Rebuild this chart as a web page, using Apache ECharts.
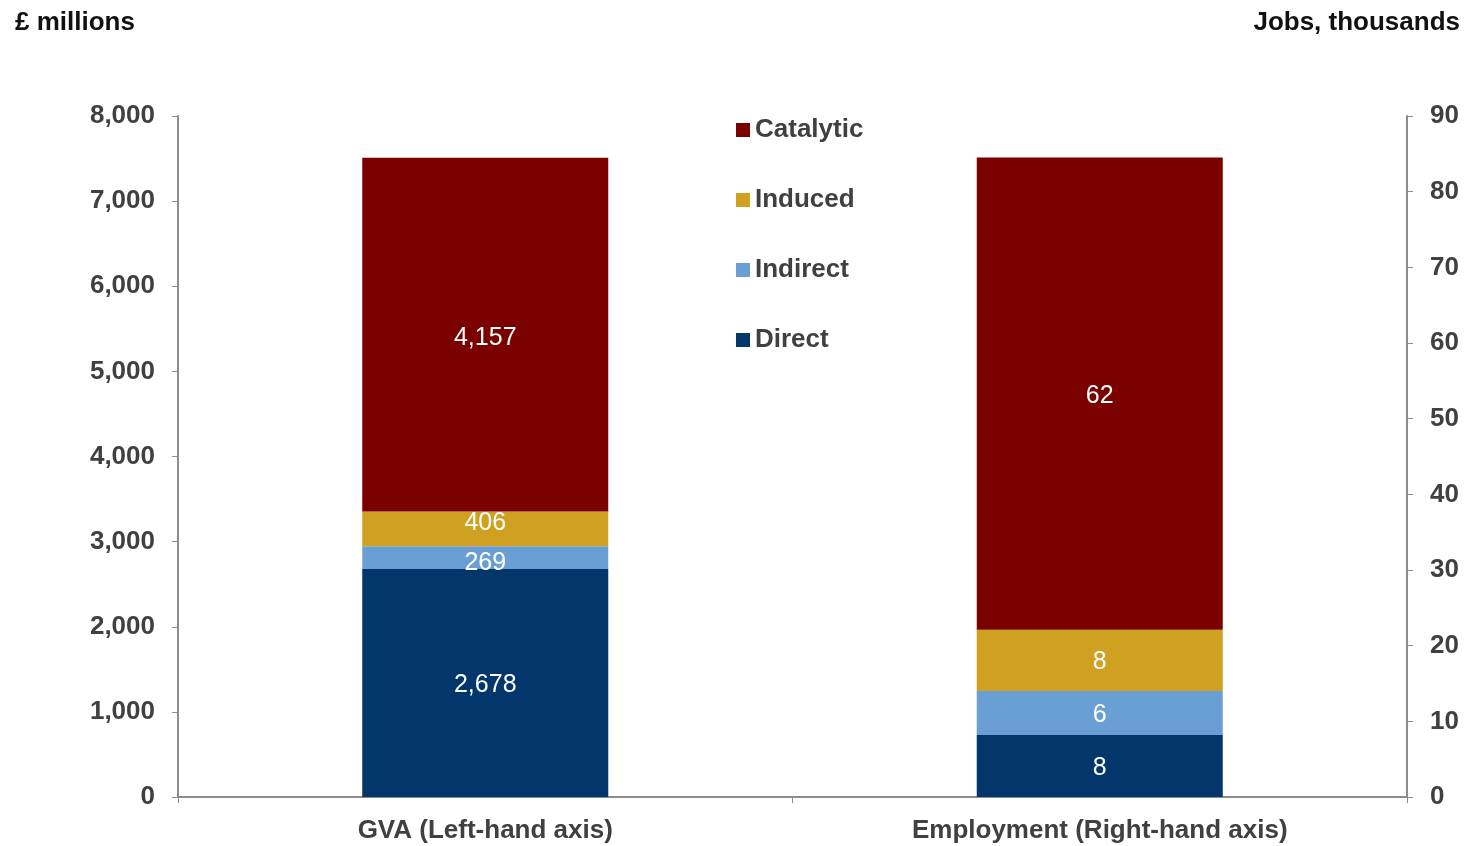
<!DOCTYPE html>
<html><head><meta charset="utf-8">
<script src="https://cdn.jsdelivr.net/npm/echarts@6/dist/echarts.min.js"></script>
<style>html,body{margin:0;padding:0;background:#fff}#c{width:1465px;height:846px}</style>
</head><body><div id="c"></div>
<script>
const categories = ['GVA (Left-hand axis)', 'Employment (Right-hand axis)'];
const seriesNames = ['Direct', 'Indirect', 'Induced', 'Catalytic'];
const gvaValues = [2678, 269, 406, 4157];
const jobsValues = [8.2, 5.8, 8.1, 62.4];
const leftTicks = [0, 1000, 2000, 3000, 4000, 5000, 6000, 7000, 8000];
const rightTicks = [0, 10, 20, 30, 40, 50, 60, 70, 80, 90];
const colors = ['#03366B', '#6A9FD6', '#D0A020', '#7B0000'];
// small label nudges used by the original (Excel) for the thin GVA segments
const gvaLabelOffsets = [[0, 2], [0, 6], [0, -6], [0, 3]];

const font = 'Liberation Sans, Arial, sans-serif';
const axisCol = '#8c8c8c';
const fmt = p => Math.round(p.value).toLocaleString('en-GB');
const series = [];
seriesNames.forEach((n, i) => {
  series.push({
    name: n, type: 'bar', stack: 'gva', yAxisIndex: 0, barWidth: 246, barGap: '-100%',
    itemStyle: {color: colors[i]},
    data: [gvaValues[i], '-'],
    label: {show: true, position: 'inside', color: '#fff', fontSize: 25, fontFamily: font,
      offset: gvaLabelOffsets[i], formatter: fmt}
  });
});
seriesNames.forEach((n, i) => {
  series.push({
    name: n, type: 'bar', stack: 'jobs', yAxisIndex: 1, barWidth: 246, barGap: '-100%',
    itemStyle: {color: colors[i]},
    data: ['-', jobsValues[i]],
    label: {show: true, position: 'inside', color: '#fff', fontSize: 25, fontFamily: font,
      offset: [0, 2], formatter: fmt}
  });
});

const chart = echarts.init(document.getElementById('c'), null, {renderer: 'canvas'});
chart.setOption({
  animation: false,
  textStyle: {fontFamily: font},
  grid: {left: 178, right: 58, top: 116, bottom: 49, containLabel: false},
  graphic: [
    {type: 'text', left: 15, top: 10, style: {text: '£ millions', font: 'bold 26px ' + font, fill: '#111'}},
    {type: 'text', right: 5, top: 10, style: {text: 'Jobs, thousands', font: 'bold 26px ' + font, fill: '#111'}}
  ],
  legend: {
    data: ['Catalytic', 'Induced', 'Indirect', 'Direct'],
    orient: 'vertical', left: 731, top: 112, itemGap: 44, itemWidth: 14, itemHeight: 14,
    icon: 'rect', selectedMode: false,
    textStyle: {fontSize: 26, lineHeight: 26, fontWeight: 'bold', color: '#404040', fontFamily: font}
  },
  xAxis: {
    type: 'category', data: categories,
    axisLine: {lineStyle: {color: axisCol, width: 2}},
    axisTick: {show: true, length: 6, lineStyle: {color: axisCol}},
    axisLabel: {fontSize: 26, fontWeight: 'bold', color: '#404040', margin: 21, fontFamily: font}
  },
  yAxis: [
    {type: 'value', min: 0, max: 8000, interval: 1000, position: 'left',
     axisLine: {show: true, lineStyle: {color: axisCol, width: 2}},
     axisTick: {show: true, length: 6, lineStyle: {color: axisCol}},
     splitLine: {show: false},
     axisLabel: {fontSize: 26, fontWeight: 'bold', color: '#404040', margin: 23, fontFamily: font,
       padding: [4, 0, 0, 0],
       formatter: v => leftTicks.includes(v) ? v.toLocaleString('en-GB') : ''}},
    {type: 'value', min: 0, max: 90, interval: 10, position: 'right',
     axisLine: {show: true, lineStyle: {color: axisCol, width: 2}},
     axisTick: {show: true, length: 6, lineStyle: {color: axisCol}},
     splitLine: {show: false},
     axisLabel: {fontSize: 26, fontWeight: 'bold', color: '#404040', margin: 23, fontFamily: font,
       padding: [4, 0, 0, 0],
       formatter: v => rightTicks.includes(v) ? String(v) : ''}}
  ],
  series: series
});
</script></body></html>
